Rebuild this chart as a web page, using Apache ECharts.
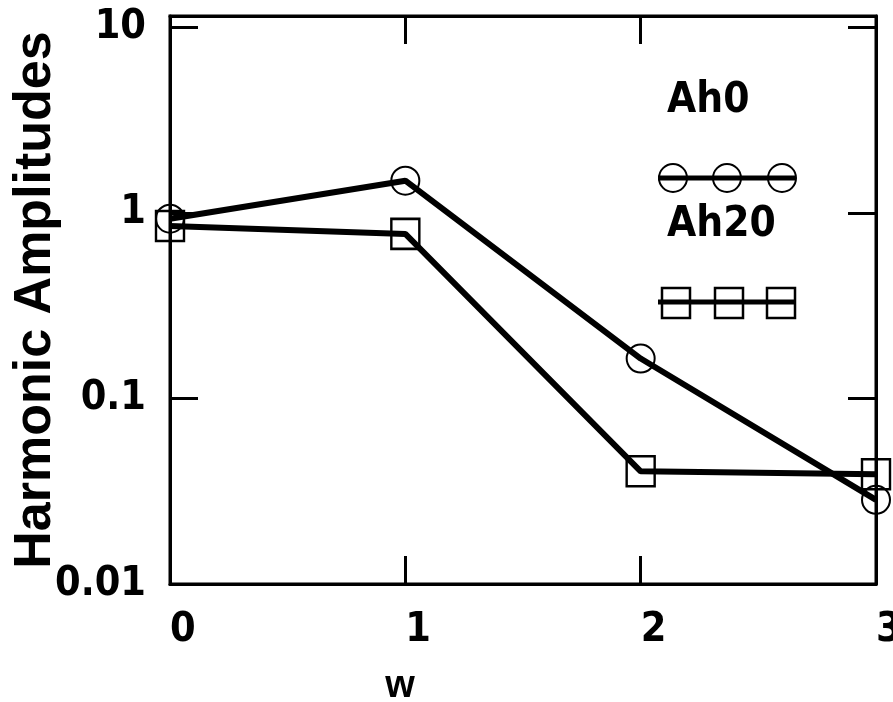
<!DOCTYPE html>
<html>
<head>
<meta charset="utf-8">
<script src="https://cdn.jsdelivr.net/npm/echarts@6/dist/echarts.min.js"></script>
<style>
html,body{margin:0;padding:0;background:#fff;}
#chart{width:893px;height:702px;}
</style>
</head>
<body>
<div id="chart"></div>
<script>
var categories = [0, 1, 2, 3];
var ah0 = [0.93, 1.49, 0.164, 0.0284];
var ah20 = [0.85, 0.77, 0.0405, 0.039];
var yTicks = [0.01, 0.1, 1, 10];
var seriesNames = ['Ah0', 'Ah20'];
var yTitle = 'Harmonic Amplitudes';
var xTitle = 'w';

var NARROW = "'Liberation Sans Narrow','Arial Narrow','DejaVu Sans Condensed',sans-serif";
var SANS = "'Liberation Sans',Arial,sans-serif";

function pairs(vals){ return categories.map(function(c,i){ return [c, vals[i]]; }); }

var chart = echarts.init(document.getElementById('chart'), null, {renderer:'canvas'});
var option = {
  backgroundColor:'#fff',
  animation:false,
  grid:{left:170, right:17, top:16, bottom:118, containLabel:false, outerBoundsMode:'none',
        show:true, borderColor:'#000', borderWidth:3, backgroundColor:'transparent'},
  xAxis:[{
    type:'value', min:0, max:3, interval:1, position:'bottom',
    name:xTitle, nameLocation:'middle', nameGap:84,
    nameTextStyle:{fontFamily:SANS, fontWeight:'bold', fontSize:38, color:'#000', padding:[0,246,0,0]},
    axisLine:{show:true, onZero:false, lineStyle:{color:'#000', width:3}},
    axisTick:{show:true, inside:true, length:28, lineStyle:{color:'#000', width:3}},
    axisLabel:{show:true, margin:26, align:'left', fontFamily:NARROW, fontWeight:'bold', fontSize:41, color:'#000'},
    splitLine:{show:false}
  },{
    type:'value', min:0, max:3, interval:1, position:'top',
    axisLine:{show:true, onZero:false, lineStyle:{color:'#000', width:3}},
    axisTick:{show:true, inside:true, length:28, lineStyle:{color:'#000', width:3}},
    axisLabel:{show:false}, splitLine:{show:false}
  }],
  yAxis:[{
    type:'log', logBase:10, min:0.01, max:11.5, position:'left',
    axisLine:{show:true, onZero:false, lineStyle:{color:'#000', width:3}},
    axisTick:{show:true, inside:true, length:28, lineStyle:{color:'#000', width:3}},
    minorTick:{show:false},
    axisLabel:{show:true, margin:24, showMaxLabel:false, fontFamily:NARROW, fontWeight:'bold', fontSize:41, color:'#000',
      formatter:function(v){ for(var i=0;i<yTicks.length;i++){ if(Math.abs(v-yTicks[i])<yTicks[i]*1e-6) return String(yTicks[i]); } return ''; }},
    splitLine:{show:false}
  },{
    type:'log', logBase:10, min:0.01, max:11.5, position:'right',
    axisLine:{show:true, onZero:false, lineStyle:{color:'#000', width:3}},
    axisTick:{show:true, inside:true, length:28, lineStyle:{color:'#000', width:3}},
    axisLabel:{show:false}, splitLine:{show:false}
  }],
  series:[{
    name:seriesNames[0], type:'line', data:pairs(ah0), clip:true,
    symbol:'circle', symbolSize:28,
    lineStyle:{color:'#000', width:6},
    itemStyle:{color:'rgba(0,0,0,0)', borderColor:'#000', borderWidth:2}
  },{
    name:seriesNames[1], type:'line', data:pairs(ah20), clip:true,
    symbol:'rect', symbolSize:[28,30],
    lineStyle:{color:'#000', width:6},
    itemStyle:{color:'rgba(0,0,0,0)', borderColor:'#000', borderWidth:2.5}
  }],
  graphic:[
    {type:'text', x:36, y:300, rotation:Math.PI/2,
     style:{text:yTitle, font:'bold 52px '+SANS, fill:'#000', align:'center', verticalAlign:'middle'}},
    {type:'text', left:667, top:80, style:{text:seriesNames[0], font:'bold 42px '+NARROW, fill:'#000'}},
    {type:'line', shape:{x1:658, y1:178, x2:795, y2:178}, style:{stroke:'#000', lineWidth:5}},
    {type:'circle', shape:{cx:673, cy:178, r:14}, style:{fill:'none', stroke:'#000', lineWidth:2}},
    {type:'circle', shape:{cx:727, cy:178, r:14}, style:{fill:'none', stroke:'#000', lineWidth:2}},
    {type:'circle', shape:{cx:782, cy:178, r:14}, style:{fill:'none', stroke:'#000', lineWidth:2}},
    {type:'text', left:667, top:204, style:{text:seriesNames[1], font:'bold 42px '+NARROW, fill:'#000'}},
    {type:'line', shape:{x1:658, y1:302, x2:795, y2:302}, style:{stroke:'#000', lineWidth:5}},
    {type:'rect', shape:{x:662, y:288, width:28, height:30}, style:{fill:'none', stroke:'#000', lineWidth:2.5}},
    {type:'rect', shape:{x:715, y:288, width:28, height:30}, style:{fill:'none', stroke:'#000', lineWidth:2.5}},
    {type:'rect', shape:{x:767, y:288, width:28, height:30}, style:{fill:'none', stroke:'#000', lineWidth:2.5}}
  ]
};
chart.setOption(option);
</script>
</body>
</html>
